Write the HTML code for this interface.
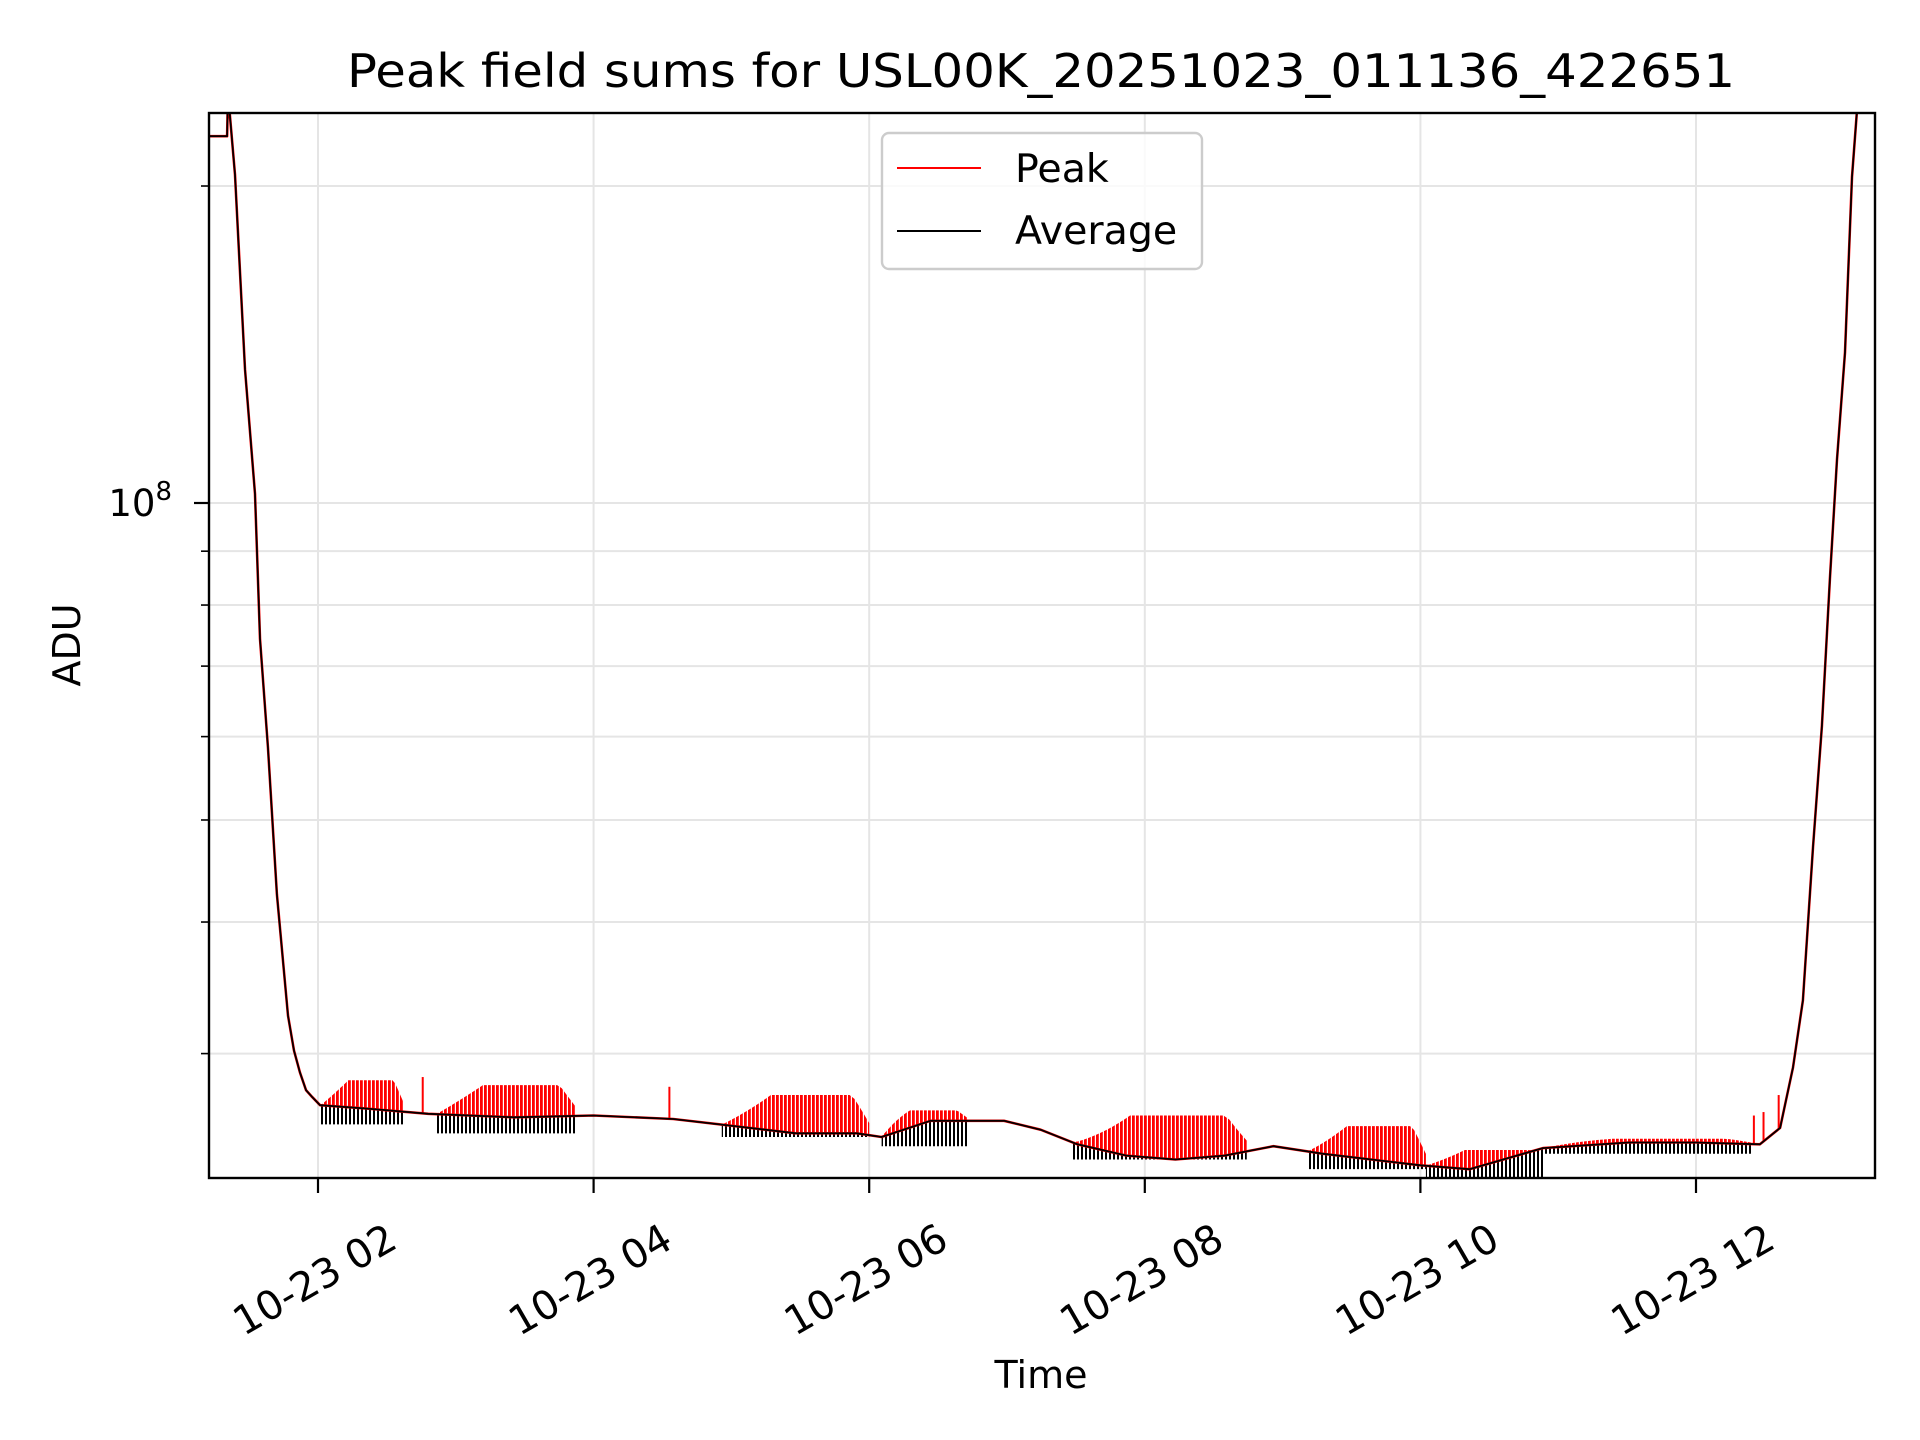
<!DOCTYPE html>
<html><head><meta charset="utf-8"><style>
html,body{margin:0;padding:0;background:#fff;}
svg{display:block;font-family:"DejaVu Sans","Liberation Sans",sans-serif;}
</style></head><body>
<svg id="chart" width="1920" height="1440" viewBox="0 0 1920 1440">
<defs>
<pattern id="redStripes" width="4" height="10" patternUnits="userSpaceOnUse"><rect x="0" y="0" width="2.8" height="10" fill="#ff0000"/></pattern>
<pattern id="blackStripes" width="4" height="10" patternUnits="userSpaceOnUse"><rect x="1" y="0" width="2" height="10" fill="#000"/></pattern>
<clipPath id="plotClip"><rect x="209" y="113" width="1666" height="1065"/></clipPath>
</defs>
<rect width="1920" height="1440" fill="#fff"/>
<g id="grid"></g>
<g id="bands" clip-path="url(#plotClip)"></g>
<g id="series" clip-path="url(#plotClip)"></g>
<rect x="209" y="113" width="1666" height="1065" fill="none" stroke="#000" stroke-width="2.4"/>
<g id="axes"></g>
<text x="1041" y="87" font-size="46" text-anchor="middle" textLength="1388" lengthAdjust="spacingAndGlyphs">Peak field sums for USL00K_20251023_011136_422651</text>
<text x="1041" y="1388" font-size="38" text-anchor="middle">Time</text>
<text x="0" y="0" font-size="38" text-anchor="middle" transform="translate(80,645) rotate(-90)">ADU</text>
<g>
<rect x="882" y="133" width="320" height="136" rx="7" fill="#fff" fill-opacity="0.8" stroke="#cccccc" stroke-width="2.4"/>
<line x1="897" y1="168" x2="981" y2="168" stroke="#ff0000" stroke-width="2"/>
<text x="1015" y="182" font-size="39.5">Peak</text>
<line x1="897" y1="231" x2="981" y2="231" stroke="#000" stroke-width="2"/>
<text x="1015" y="244" font-size="39.5">Average</text>
</g>
</svg>
<script>
// Data (hours since 10-23 00:00, ADU)
const avgHours = [1.209,1.340,1.347,1.398,1.470,1.543,1.579,1.637,1.702,1.782,1.826,1.869,1.913,1.956,2.015,2.356,2.8,3.422,4.0,4.578,5.022,5.467,5.911,6.089,6.444,6.978,7.244,7.511,7.867,8.222,8.578,8.933,9.289,9.644,10.0,10.356,10.889,11.511,12.0,12.464,12.610,12.704,12.776,12.849,12.914,12.972,13.023,13.081,13.132,13.168,13.19];
const avgValues = [2.23e8,2.23e8,2.45e8,2.05e8,1.34e8,1.02e8,7.43e7,5.85e7,4.25e7,3.26e7,3.02e7,2.88e7,2.77e7,2.73e7,2.68e7,2.66e7,2.63e7,2.61e7,2.62e7,2.60e7,2.56e7,2.52e7,2.52e7,2.50e7,2.59e7,2.59e7,2.54e7,2.46e7,2.40e7,2.38e7,2.40e7,2.45e7,2.41e7,2.38e7,2.35e7,2.33e7,2.44e7,2.47e7,2.47e7,2.46e7,2.55e7,2.91e7,3.37e7,4.71e7,6.14e7,8.47e7,1.10e8,1.39e8,2.04e8,2.36e8,2.45e8];
const bandStart = [2.02,2.86,4.93,6.09,7.47,9.18,10.04,10.89];
const bandEnd = [2.62,3.87,6.00,6.71,8.74,10.04,10.89,12.40];
const bandPeakTop = [2.83e7,2.80e7,2.74e7,2.65e7,2.62e7,2.56e7,2.43e7,2.49e7];
const bandAvgLow = [2.57e7,2.52e7,2.50e7,2.45e7,2.38e7,2.33e7,2.29e7,2.41e7];
const spikeHours = [2.76,4.55,12.42,12.49,12.60];
const spikeValues = [2.85e7,2.79e7,2.62e7,2.64e7,2.74e7];
const xTickHours = [2,4,6,8,10,12];
const xTickLabels = ["10-23 02","10-23 04","10-23 06","10-23 08","10-23 10","10-23 12"];
const yMinorTicks = [3e7,4e7,5e7,6e7,7e7,8e7,9e7,2e8];

const NS="http://www.w3.org/2000/svg";
const L=209,R=1875,T=113,B=1178;
const xScale=h=>318+(h-2)*137.8;
const yScale=v=>503-1053*Math.log10(v/1e8);
function mk(tag,attrs,parent){const e=document.createElementNS(NS,tag);for(const k in attrs)e.setAttribute(k,attrs[k]);parent.appendChild(e);return e;}
function avgAt(h){for(let i=0;i<avgHours.length-1;i++){if(h>=avgHours[i]&&h<=avgHours[i+1]){const t=(h-avgHours[i])/(avgHours[i+1]-avgHours[i]);return Math.pow(10,Math.log10(avgValues[i])*(1-t)+Math.log10(avgValues[i+1])*t);}}return avgValues[avgValues.length-1];}

const grid=document.getElementById('grid'),axes=document.getElementById('axes'),bands=document.getElementById('bands'),series=document.getElementById('series');
xTickHours.forEach((h,i)=>{const x=xScale(h);
 const g=mk('line',{x1:x,y1:T,x2:x,y2:B,stroke:'#e5e5e5','stroke-width':2},grid);
 
 
 const t=mk('line',{x1:x,y1:B,x2:x,y2:B+15,stroke:'#000','stroke-width':2.2},axes);
 
 
 const lb=mk('text',{x:0,y:0,'font-size':40,'text-anchor':'middle','dominant-baseline':'middle',transform:`translate(${x-2},${1282}) rotate(-30)`},axes);
 lb.textContent=xTickLabels[i];
 
 
});
[1e8].concat(yMinorTicks).forEach(v=>{const y=yScale(v);
 const g=mk('line',{x1:L,y1:y,x2:R,y2:y,stroke:'#e5e5e5','stroke-width':2},grid);
 
 
 const t=mk('line',{x1:L-(v===1e8?15:8),y1:y,x2:L,y2:y,stroke:'#000','stroke-width':v===1e8?2.2:1.6},axes);
 
 
});
const yl=mk('text',{x:172,y:yScale(1e8)+13,'font-size':37,'text-anchor':'end'},axes);
yl.innerHTML='10<tspan dy="-16" font-size="26">8</tspan>';



bandStart.forEach((s,i)=>{const e=bandEnd[i];const n=30;let top=[],base=[],low=[];
 for(let k=0;k<=n;k++){const h=s+(e-s)*k/n;const bx=xScale(h);const by=yScale(avgAt(h));base.push([bx,by]);
  const f=Math.min(1,(k/n)*3,(1-k/n)*6+0.3);
  top.push([bx,Math.min(by,yScale(bandPeakTop[i])+(by-yScale(bandPeakTop[i]))*(1-f))]);
  low.push([bx,Math.max(by,yScale(bandAvgLow[i]))]);}
 const pr=top.concat(base.slice().reverse()).map(p=>p.join(',')).join(' ');
 const pb=base.concat(low.slice().reverse()).map(p=>p.join(',')).join(' ');
 const r=mk('polygon',{points:pr,fill:'url(#redStripes)'},bands);
 
 
 const b=mk('polygon',{points:pb,fill:'url(#blackStripes)'},bands);
 
 
});
spikeHours.forEach((h,i)=>{const x=xScale(h);
 const s=mk('line',{x1:x,y1:yScale(spikeValues[i]),x2:x,y2:yScale(avgAt(h)),stroke:'#ff0000','stroke-width':2},series);
 
 
});
function pathFrom(){let d='';avgHours.forEach((h,i)=>{d+=(i?'L':'M')+xScale(h).toFixed(1)+','+yScale(avgValues[i]).toFixed(1);});return d;}
const pk=mk('path',{d:pathFrom(),fill:'none',stroke:'#ff0000','stroke-width':2.6,'stroke-linejoin':'round'},series);


const av=mk('path',{d:pathFrom(),fill:'none',stroke:'#000','stroke-width':1.8,'stroke-linejoin':'round'},series);


</script>
</body></html>
